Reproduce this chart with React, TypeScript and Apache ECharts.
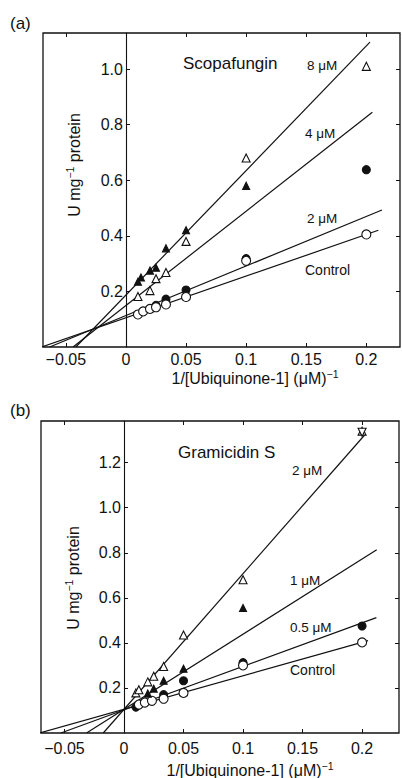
import React, { useEffect, useRef } from "react";
import * as echarts from "echarts";

// ---- shared tick values ----
const xTicks = [-0.05, 0, 0.05, 0.1, 0.15, 0.2];
const yTicksA = [0.2, 0.4, 0.6, 0.8, 1.0];
const yTicksB = [0.2, 0.4, 0.6, 0.8, 1.0, 1.2];

// ---- panel (a): Scopafungin ----
const aControlPts = [[0.01, 0.117], [0.0143, 0.128], [0.02, 0.137], [0.025, 0.143], [0.0333, 0.153], [0.05, 0.18], [0.1, 0.31], [0.2, 0.405]];
const a2uMPts = [[0.025, 0.15], [0.0333, 0.172], [0.05, 0.205], [0.1, 0.318], [0.2, 0.638]];
const a4uMPts = [[0.01, 0.182], [0.02, 0.203], [0.025, 0.246], [0.0333, 0.268], [0.05, 0.38], [0.1, 0.68], [0.2, 1.01]];
const a8uMPts = [[0.01, 0.235], [0.0125, 0.25], [0.02, 0.275], [0.025, 0.285], [0.0333, 0.355], [0.05, 0.42], [0.1, 0.58]];
const aControlLine = [[-0.07, 0], [0.21, 0.42]];
const a2uMLine = [[-0.0635, 0], [0.213, 0.493]];
const a4uMLine = [[-0.044, 0], [0.205, 0.845]];
const a8uMLine = [[-0.0417, 0], [0.203, 1.097]];

// ---- panel (b): Gramicidin S ----
const bControlPts = [[0.0125, 0.126], [0.0175, 0.135], [0.0235, 0.143], [0.0333, 0.152], [0.05, 0.178], [0.1, 0.3], [0.2, 0.402]];
const b05uMPts = [[0.01, 0.115], [0.0333, 0.17], [0.05, 0.232], [0.1, 0.312], [0.2, 0.475]];
const b1uMPts = [[0.02, 0.175], [0.025, 0.197], [0.0333, 0.232], [0.05, 0.285], [0.1, 0.555]];
const b2uMPts = [[0.01, 0.178], [0.0125, 0.192], [0.02, 0.227], [0.025, 0.252], [0.0333, 0.295], [0.05, 0.435], [0.1, 0.68], [0.2, 1.34]];
const b2uMExtraPts = [[0.2, 1.335]];
const bControlLine = [[-0.0707, 0], [0.205, 0.41]];
const b05uMLine = [[-0.053, 0], [0.212, 0.512]];
const b1uMLine = [[-0.0315, 0], [0.2123, 0.813]];
const b2uMLine = [[-0.0174, 0], [0.2025, 1.325]];

const INK = "#111";
const FONT = '"Liberation Sans", Arial, Helvetica, sans-serif';

const GRID_A = { left: 43, top: 33, width: 357, height: 314 };
const GRID_B = { left: 41, top: 421, width: 358, height: 312 };
const XR_A = [-0.069, 0.228];
const XR_B = [-0.0697, 0.231];

function fmtX(v: number) {
  if (v === 0) return "0";
  return (v < 0 ? "\u2212" : "") + String(Math.abs(v));
}

function xAxes(gridIndex: number, min: number, max: number, labelMargin: number) {
  return [
    {
      type: "value", gridIndex, min, max, position: "bottom",
      axisLine: { show: false, onZero: false },
      splitLine: { show: false },
      axisTick: { show: true, inside: true, length: 4, customValues: xTicks, lineStyle: { color: INK, width: 1 } },
      axisLabel: { show: true, customValues: xTicks, formatter: fmtX, color: INK, fontSize: 16, fontFamily: FONT, margin: labelMargin },
    },
    {
      type: "value", gridIndex, min, max, position: "top",
      axisLine: { show: false, onZero: false },
      splitLine: { show: false },
      axisTick: { show: true, inside: true, length: 4, customValues: xTicks, lineStyle: { color: INK, width: 1 } },
      axisLabel: { show: false },
    },
  ];
}

// the left y axis sits on x = 0: shift it inward by the pixel distance of 0 from the grid's left edge
function yAxes(gridIndex: number, max: number, ticks: number[], grid: any, xr: number[]) {
  const zeroOffset = ((0 - xr[0]) / (xr[1] - xr[0])) * grid.width;
  return [
    {
      type: "value", gridIndex, min: 0, max, position: "left", offset: -zeroOffset,
      axisLine: { show: true, onZero: false, lineStyle: { color: INK, width: 1.1 } },
      splitLine: { show: false },
      axisTick: { show: true, inside: true, length: 4, customValues: ticks, lineStyle: { color: INK, width: 1 } },
      axisLabel: { show: true, customValues: ticks, formatter: (v: number) => v.toFixed(1), color: INK, fontSize: 16, fontFamily: FONT, margin: 3 },
    },
    {
      type: "value", gridIndex, min: 0, max, position: "right",
      axisLine: { show: false, onZero: false },
      splitLine: { show: false },
      axisTick: { show: true, inside: true, length: 4, customValues: ticks, lineStyle: { color: INK, width: 1 } },
      axisLabel: { show: false },
    },
  ];
}

function line(data: number[][], xi: number, yi: number) {
  return {
    type: "line", xAxisIndex: xi, yAxisIndex: yi, data, symbol: "none", clip: true, silent: true, z: 2,
    lineStyle: { color: INK, width: 1.2 },
  };
}

function pts(data: number[][], xi: number, yi: number, symbol: string, size: number, filled: boolean, z: number, rotate = 0) {
  return {
    type: "scatter", xAxisIndex: xi, yAxisIndex: yi, data, symbol, symbolSize: size, symbolRotate: rotate, z, silent: true,
    itemStyle: { color: filled ? INK : "#fff", borderColor: INK, borderWidth: 1.1, opacity: 1 },
  };
}

function txt(text: string, x: number, y: number, size: number, align = "left") {
  return {
    type: "text", x, y, silent: true,
    style: { text, fill: INK, font: `${size}px ${FONT}`, align, verticalAlign: "middle" },
  };
}

function richTxt(text: string, x: number, y: number, rotation: number) {
  return {
    type: "text", x, y, rotation, silent: true,
    style: {
      text, fill: INK, fontSize: 16, fontFamily: FONT, align: "center", verticalAlign: "middle",
      rich: { sup: { fontSize: 10.5, fontFamily: FONT, fill: INK, padding: [0, 0, 8, 0] } },
    },
  };
}

const option = {
  animation: false,
  backgroundColor: "#fff",
  grid: [
    { ...GRID_A, show: true, borderColor: INK, borderWidth: 1.3, backgroundColor: "transparent" },
    { ...GRID_B, show: true, borderColor: INK, borderWidth: 1.3, backgroundColor: "transparent" },
  ],
  xAxis: [...xAxes(0, XR_A[0], XR_A[1], 4), ...xAxes(1, XR_B[0], XR_B[1], 7)],
  yAxis: [...yAxes(0, 1.13, yTicksA, GRID_A, XR_A), ...yAxes(1, 1.385, yTicksB, GRID_B, XR_B)],
  series: [
    // panel (a)
    line(aControlLine, 0, 0),
    line(a2uMLine, 0, 0),
    line(a4uMLine, 0, 0),
    line(a8uMLine, 0, 0),
    pts(a2uMPts, 0, 0, "circle", 8, true, 3),
    pts(aControlPts, 0, 0, "circle", 9, false, 4),
    pts(a8uMPts, 0, 0, "triangle", 7, true, 5),
    pts(a4uMPts, 0, 0, "triangle", 8, false, 5),
    // panel (b)
    line(bControlLine, 2, 2),
    line(b05uMLine, 2, 2),
    line(b1uMLine, 2, 2),
    line(b2uMLine, 2, 2),
    pts(b05uMPts, 2, 2, "circle", 8, true, 3),
    pts(bControlPts, 2, 2, "circle", 9, false, 4),
    pts(b1uMPts, 2, 2, "triangle", 7, true, 5),
    pts(b2uMPts, 2, 2, "triangle", 8, false, 5),
    pts(b2uMExtraPts, 2, 2, "triangle", 8, false, 6, 180),
  ],
  graphic: [
    txt("(a)", 10, 23, 17),
    txt("Scopafungin", 183, 63, 17),
    txt("8 \u03bcM", 307, 65, 13.5),
    txt("4 \u03bcM", 305, 133, 13.5),
    txt("2 \u03bcM", 307, 218, 13.5),
    txt("Control", 305, 270, 14),
    richTxt("1/[Ubiquinone-1] (\u03bcM){sup|\u22121}", 255, 378, 0),
    richTxt("U mg{sup|\u22121} protein", 74, 165, Math.PI / 2),

    txt("(b)", 10, 410, 17),
    txt("Gramicidin S", 178, 452, 17),
    txt("2 \u03bcM", 292, 470, 13.5),
    txt("1 \u03bcM", 290, 580, 13.5),
    txt("0.5 \u03bcM", 290, 627, 13.5),
    txt("Control", 290, 670, 14),
    richTxt("1/[Ubiquinone-1] (\u03bcM){sup|\u22121}", 250, 770, 0),
    richTxt("U mg{sup|\u22121} protein", 73, 578, Math.PI / 2),
  ],
};

export default function App() {
  const ref = useRef<HTMLDivElement>(null);
  useEffect(() => {
    const chart = echarts.init(ref.current as HTMLDivElement, null, { renderer: "svg" });
    chart.setOption(option as any);
    return () => chart.dispose();
  }, []);
  return (
    <div
      ref={ref}
      style={{ position: "fixed", left: 0, top: 0, width: 402, height: 778, background: "#fff" }}
    />
  );
}
